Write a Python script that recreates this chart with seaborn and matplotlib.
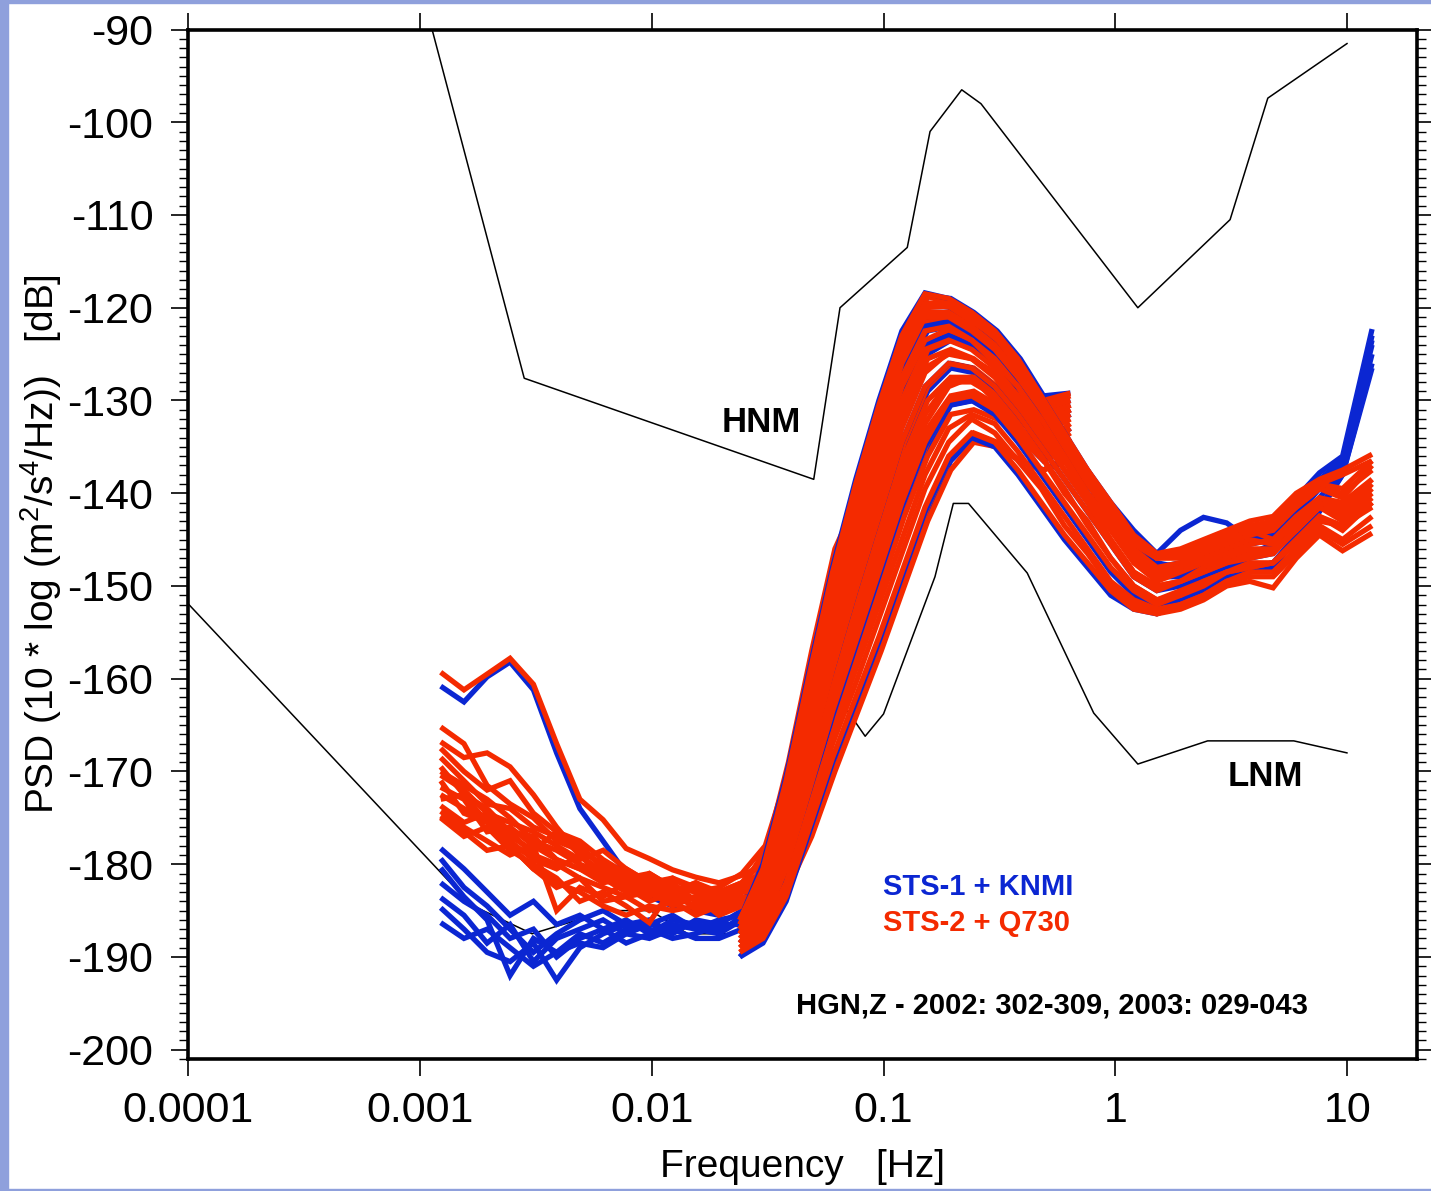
import matplotlib
matplotlib.use("Agg")
import matplotlib.pyplot as plt
import pandas as pd
import seaborn as sns
from matplotlib.patches import Rectangle
from matplotlib.ticker import MultipleLocator, NullLocator

# frequency grids [Hz]: long-period channel and broadband channel
freq_lp = [0.00123, 0.00155, 0.00195, 0.00245, 0.00309, 0.00389, 0.0049, 0.00617,
           0.00776, 0.00977, 0.0123, 0.0155, 0.0195, 0.0245, 0.0309, 0.0389,
           0.049, 0.0617, 0.0776, 0.0977, 0.123, 0.155, 0.195, 0.245,
           0.309, 0.389, 0.49, 0.64]
freq_bb = [0.024, 0.0302, 0.038, 0.0479, 0.0603, 0.0759, 0.0955, 0.120,
           0.151, 0.191, 0.240, 0.302, 0.380, 0.479, 0.603, 0.759,
           0.955, 1.20, 1.51, 1.91, 2.40, 3.02, 3.80, 4.79,
           6.03, 7.59, 9.55, 12.8]

# STS-1 + KNMI (blue), long period channel  [dB]
sts1_lp = [
    [-160.8, -162.5, -159.8, -158.2, -161.2, -168.0, -174.0, -177.5, -181.0, -183.5, -184.5, -185.0, -185.5, -184.0,
     -181.0, -173.5, -163.5, -153.0, -143.5, -135.0, -127.0, -122.5, -122.0, -123.5, -125.5, -128.5, -131.5, -130.5],
    [-178.3, -180.5, -183.0, -185.5, -184.0, -186.5, -185.5, -187.0, -186.0, -187.5, -186.5, -187.0, -187.5, -185.5,
     -179.0, -171.0, -160.0, -149.0, -139.5, -131.0, -123.5, -118.8, -119.0, -120.5, -122.5, -125.5, -129.5, -129.2],
    [-179.4, -182.5, -184.5, -187.0, -189.5, -187.5, -186.0, -185.0, -186.5, -186.0, -187.5, -186.0, -186.5, -185.0,
     -181.5, -175.5, -166.0, -156.0, -147.0, -138.5, -130.5, -125.0, -123.5, -124.5, -126.5, -129.5, -133.0, -131.5],
    [-180.4, -183.5, -186.0, -192.0, -188.0, -189.5, -187.5, -188.5, -187.0, -186.5, -185.5, -187.0, -186.0, -185.5,
     -182.5, -178.0, -169.0, -159.5, -151.0, -143.0, -135.0, -129.0, -126.5, -127.0, -129.0, -132.0, -135.0, -133.0],
    [-183.6, -185.5, -188.5, -186.5, -190.5, -188.0, -187.0, -186.0, -187.5, -188.0, -187.0, -186.5, -187.5, -186.0,
     -183.5, -180.0, -172.5, -164.0, -156.5, -149.0, -141.5, -135.0, -130.5, -130.0, -131.5, -134.0, -136.5, -134.5],
    [-184.7, -187.0, -189.5, -190.5, -188.5, -192.5, -189.0, -187.5, -186.5, -187.0, -188.0, -187.5, -186.5, -186.5,
     -180.0, -172.0, -162.0, -151.5, -142.0, -133.5, -125.5, -121.0, -121.0, -122.5, -124.5, -127.5, -131.0, -130.0],
    [-186.3, -188.0, -187.0, -189.0, -191.0, -189.5, -188.5, -189.0, -187.5, -186.5, -187.0, -188.0, -188.0, -187.0,
     -185.0, -182.5, -176.5, -169.0, -162.5, -156.0, -149.0, -142.0, -136.5, -134.0, -135.0, -136.5, -137.5, -136.0],
    [-182.0, -184.0, -185.5, -188.0, -187.0, -190.0, -188.0, -187.0, -188.5, -187.5, -186.0, -186.5, -187.0, -186.0,
     -181.0, -174.5, -165.0, -155.0, -146.0, -137.5, -129.5, -124.0, -123.0, -124.0, -126.0, -129.0, -132.5, -131.0],
]

# STS-2 + Q730 (red), long period channel  [dB]
sts2_lp = [
    [-159.3, -161.2, -159.5, -157.8, -160.6, -167.0, -173.0, -175.2, -178.3, -179.4, -180.6, -181.4, -182.0, -181.2,
     -180.0, -172.5, -162.5, -152.0, -142.5, -134.0, -126.0, -121.5, -121.5, -123.0, -125.0, -128.0, -131.5, -130.5],
    [-165.2, -167.0, -171.5, -173.5, -175.0, -177.5, -178.5, -180.0, -181.5, -181.0, -182.5, -183.0, -182.5, -181.0,
     -178.0, -170.0, -159.5, -148.5, -139.0, -130.5, -123.0, -118.8, -119.5, -121.0, -123.0, -126.0, -130.0, -129.2],
    [-166.8, -168.5, -168.0, -169.5, -172.5, -176.0, -179.0, -181.0, -180.5, -182.0, -183.5, -182.5, -183.0, -182.0,
     -181.0, -175.0, -165.5, -155.5, -146.5, -138.0, -130.0, -124.5, -123.5, -124.5, -126.5, -129.5, -133.0, -131.5],
    [-167.5, -170.0, -172.0, -171.0, -174.5, -176.5, -177.5, -179.5, -181.0, -182.5, -181.5, -183.0, -184.0, -182.5,
     -182.0, -177.5, -168.5, -159.0, -150.5, -142.5, -134.5, -128.5, -126.0, -126.5, -128.5, -131.5, -134.5, -132.5],
    [-170.4, -172.0, -174.5, -175.5, -176.5, -178.0, -179.5, -178.5, -180.5, -182.0, -181.5, -182.5, -183.5, -183.0,
     -183.0, -179.5, -172.0, -163.5, -156.0, -148.5, -141.0, -134.5, -130.0, -129.5, -131.0, -133.5, -136.0, -134.0],
    [-171.0, -174.5, -175.5, -177.0, -178.5, -176.5, -179.0, -181.5, -182.5, -181.0, -182.5, -184.0, -183.0, -182.0,
     -179.0, -169.0, -157.0, -146.0, -140.5, -139.5, -131.0, -124.5, -122.5, -124.0, -126.0, -129.0, -132.5, -131.0],
    [-171.7, -173.0, -176.5, -176.0, -178.0, -179.5, -180.5, -182.0, -181.5, -183.0, -184.0, -183.5, -184.5, -183.5,
     -184.0, -182.0, -176.0, -168.5, -162.0, -155.5, -148.5, -141.5, -136.0, -133.5, -134.5, -136.5, -137.5, -136.0],
    [-173.7, -175.5, -174.5, -177.5, -179.5, -180.5, -179.0, -181.0, -182.5, -184.0, -183.0, -182.0, -183.5, -182.5,
     -180.5, -173.0, -163.0, -152.5, -143.0, -135.0, -127.0, -122.0, -122.0, -123.5, -125.5, -128.5, -132.0, -130.5],
    [-174.3, -176.0, -177.5, -179.0, -178.0, -185.0, -182.5, -183.5, -182.0, -181.5, -183.5, -184.5, -184.0, -184.0,
     -183.5, -180.0, -173.0, -165.0, -157.5, -150.0, -142.5, -136.0, -131.5, -131.0, -132.0, -134.0, -136.5, -135.0],
    [-175.0, -177.0, -176.0, -178.5, -180.0, -181.5, -184.0, -183.0, -184.5, -186.3, -182.5, -185.0, -184.5, -183.0,
     -181.5, -175.5, -166.5, -156.5, -147.5, -139.0, -131.0, -125.5, -124.5, -125.5, -127.5, -130.5, -133.5, -132.0],
    [-172.5, -174.0, -175.0, -176.5, -179.0, -180.0, -181.5, -182.5, -183.5, -183.0, -184.5, -183.5, -185.5, -184.5,
     -182.5, -178.0, -169.5, -160.5, -152.0, -144.0, -136.0, -130.0, -127.5, -127.5, -129.5, -132.0, -135.0, -133.0],
    [-168.5, -171.0, -173.5, -174.0, -176.0, -177.0, -178.0, -180.5, -182.0, -181.5, -183.0, -182.0, -183.0, -182.5,
     -178.5, -171.0, -160.5, -149.5, -140.0, -131.5, -124.0, -119.5, -120.0, -121.5, -123.5, -127.0, -130.5, -129.5],
    [-173.0, -172.5, -175.5, -178.0, -180.5, -182.0, -183.0, -184.5, -185.5, -184.5, -185.0, -184.5, -185.0, -184.0,
     -184.5, -182.5, -177.0, -170.0, -163.5, -157.0, -150.0, -143.0, -137.5, -134.5, -135.0, -136.5, -137.5, -136.4],
    [-169.5, -172.5, -174.0, -176.5, -177.0, -179.5, -180.5, -181.5, -183.0, -182.5, -184.0, -183.5, -184.0, -183.0,
     -180.5, -173.5, -164.0, -154.0, -144.5, -136.0, -128.5, -123.5, -122.5, -124.0, -126.0, -129.5, -132.5, -131.0],
    [-174.8, -176.5, -178.5, -178.0, -180.5, -182.5, -181.5, -184.0, -183.5, -185.0, -184.0, -185.5, -184.5, -184.5,
     -183.0, -179.0, -171.0, -162.5, -154.5, -146.5, -139.0, -133.0, -129.5, -129.0, -130.5, -133.0, -135.5, -133.5],
    [-170.0, -171.5, -173.0, -175.0, -177.5, -178.5, -180.0, -181.0, -182.0, -183.5, -182.0, -184.0, -183.5, -182.0,
     -179.5, -172.0, -162.0, -151.5, -141.5, -133.5, -125.5, -120.5, -120.5, -122.0, -124.0, -127.0, -131.0, -130.0],
]

# STS-1 + KNMI (blue), broadband channel  [dB]
sts1_bb = [
    [-186.0, -180.0, -170.5, -159.0, -148.0, -138.5, -130.0, -122.5, -118.4, -119.0, -120.5, -122.5, -125.5, -129.5,
     -133.5, -137.5, -141.0, -144.0, -146.5, -144.0, -142.6, -143.2, -145.0, -144.5, -140.5, -137.8, -136.0, -122.3],
    [-186.5, -182.0, -173.0, -162.0, -151.5, -142.0, -133.5, -125.5, -120.5, -120.5, -122.0, -124.0, -127.0, -130.5,
     -134.5, -138.5, -142.0, -145.5, -147.5, -148.0, -146.5, -145.5, -145.0, -144.0, -141.0, -138.5, -136.5, -123.0],
    [-187.5, -183.5, -175.5, -165.0, -155.0, -146.0, -137.5, -129.5, -124.0, -123.0, -124.0, -126.0, -129.0, -132.5,
     -136.0, -140.0, -143.5, -147.0, -149.0, -149.0, -148.0, -147.0, -146.5, -145.5, -142.5, -139.5, -137.0, -124.0],
    [-188.5, -185.5, -178.5, -168.5, -159.0, -150.5, -142.5, -134.5, -128.5, -126.0, -126.5, -128.5, -131.5, -135.0,
     -138.5, -142.0, -145.5, -149.0, -150.5, -150.0, -149.0, -148.0, -147.0, -146.5, -143.5, -140.5, -137.5, -125.0],
    [-190.0, -187.0, -181.0, -172.5, -164.0, -156.5, -149.0, -141.5, -135.0, -130.5, -130.0, -131.5, -134.5, -138.0,
     -141.5, -145.0, -148.5, -151.0, -152.0, -151.5, -150.5, -149.0, -148.0, -147.5, -144.5, -141.5, -138.0, -126.0],
    [-190.0, -188.5, -184.0, -176.5, -169.0, -162.5, -156.0, -149.0, -142.0, -136.5, -134.0, -135.0, -138.0, -141.5,
     -145.0, -148.0, -151.0, -152.5, -153.0, -152.0, -151.0, -149.5, -148.5, -148.0, -145.0, -142.0, -138.0, -126.5],
    [-187.0, -182.5, -174.0, -163.0, -152.5, -143.5, -135.0, -127.0, -122.0, -121.5, -123.0, -125.0, -128.0, -131.5,
     -135.5, -139.0, -142.5, -146.0, -148.0, -147.5, -147.0, -146.0, -145.5, -145.0, -142.0, -139.0, -136.5, -123.5],
]

# STS-2 + Q730 (red), broadband channel  [dB]
sts2_bb = [
    [-186.0, -180.5, -171.0, -159.5, -148.5, -139.0, -130.5, -123.0, -118.5, -119.0, -120.5, -122.5, -125.5, -129.5,
     -133.5, -137.5, -141.0, -144.5, -146.5, -146.0, -145.0, -144.0, -143.0, -142.5, -140.0, -138.5, -137.5, -135.8],
    [-186.5, -182.0, -173.5, -162.5, -152.0, -142.5, -134.0, -126.0, -121.0, -121.0, -122.5, -124.5, -127.5, -131.0,
     -135.0, -139.0, -142.5, -146.0, -148.0, -147.5, -146.5, -145.5, -144.5, -144.0, -141.5, -139.5, -140.5, -137.0],
    [-187.5, -183.5, -176.0, -165.5, -155.5, -146.5, -138.0, -130.0, -124.5, -123.5, -124.5, -126.5, -129.5, -133.0,
     -136.5, -140.5, -144.0, -147.5, -149.5, -148.5, -147.5, -146.5, -145.5, -145.0, -142.5, -140.5, -141.5, -138.5],
    [-188.0, -185.0, -178.5, -168.5, -159.0, -150.5, -142.5, -134.5, -128.5, -126.0, -126.5, -128.5, -131.5, -135.0,
     -138.5, -142.0, -145.5, -149.0, -150.5, -149.5, -148.5, -147.5, -146.5, -146.5, -143.5, -141.5, -142.5, -139.5],
    [-189.0, -186.5, -180.5, -172.0, -163.5, -156.0, -148.5, -141.0, -134.5, -130.0, -129.5, -131.0, -134.0, -137.5,
     -141.0, -144.5, -148.0, -150.5, -152.0, -151.0, -150.0, -148.5, -148.0, -147.5, -145.0, -142.5, -144.0, -141.0],
    [-189.5, -188.0, -183.5, -176.0, -168.5, -162.0, -155.5, -148.5, -141.5, -136.0, -133.5, -134.5, -137.5, -141.0,
     -144.5, -147.5, -150.5, -152.5, -153.0, -152.5, -151.5, -150.0, -149.5, -150.2, -147.0, -144.5, -146.2, -144.3],
    [-186.0, -181.0, -172.0, -160.5, -149.5, -140.0, -131.5, -124.0, -119.5, -119.5, -121.0, -123.0, -126.0, -130.0,
     -134.0, -138.0, -141.5, -145.0, -147.0, -147.0, -146.0, -145.0, -144.0, -143.5, -141.0, -139.0, -139.5, -136.5],
    [-187.0, -182.5, -174.5, -163.5, -153.5, -144.0, -135.5, -127.5, -122.5, -122.0, -123.5, -125.5, -128.5, -132.0,
     -136.0, -140.0, -143.5, -147.0, -149.0, -148.0, -146.5, -145.0, -144.0, -145.0, -143.0, -140.5, -141.0, -138.5],
    [-187.5, -184.0, -177.0, -167.0, -157.0, -148.0, -140.0, -132.0, -126.5, -125.0, -125.5, -127.5, -130.5, -134.0,
     -137.5, -141.0, -145.0, -148.5, -150.0, -149.5, -148.5, -147.5, -147.0, -146.5, -144.0, -141.5, -142.5, -140.0],
    [-188.5, -185.5, -179.5, -170.0, -161.0, -153.0, -145.5, -138.0, -131.5, -128.0, -128.0, -129.5, -132.5, -136.0,
     -139.5, -143.5, -147.0, -150.0, -151.5, -151.0, -149.5, -148.5, -148.0, -147.5, -145.0, -142.5, -143.5, -141.0],
    [-189.0, -187.0, -182.0, -174.0, -166.0, -159.0, -152.0, -145.0, -138.0, -133.0, -131.5, -132.5, -135.5, -139.0,
     -142.5, -146.0, -149.5, -151.5, -152.5, -152.0, -151.0, -149.5, -148.5, -148.5, -146.0, -143.5, -145.0, -142.5],
    [-186.5, -181.5, -172.5, -161.5, -151.0, -141.5, -133.0, -125.0, -120.5, -120.5, -122.0, -124.0, -127.0, -130.5,
     -134.5, -138.5, -142.0, -145.5, -147.0, -146.5, -145.5, -144.5, -143.5, -143.0, -140.5, -139.0, -138.0, -136.5],
    [-186.0, -181.0, -172.0, -161.0, -150.0, -140.5, -132.0, -124.5, -120.0, -119.8, -121.5, -123.0, -126.5, -130.0,
     -134.5, -137.5, -141.5, -145.0, -147.0, -146.5, -145.5, -145.0, -144.0, -143.5, -141.5, -139.5, -140.0, -137.5],
    [-187.0, -183.0, -175.0, -164.0, -154.0, -145.0, -136.5, -128.5, -123.5, -122.3, -123.5, -126.0, -128.5, -133.0,
     -136.0, -140.0, -143.0, -146.5, -148.5, -148.0, -147.0, -146.0, -145.0, -145.5, -143.0, -141.0, -142.0, -139.0],
    [-187.5, -184.5, -177.5, -167.5, -158.0, -149.0, -141.0, -133.0, -127.0, -124.8, -125.5, -127.0, -130.5, -133.5,
     -137.5, -141.0, -145.0, -148.5, -150.0, -149.5, -148.0, -147.0, -146.0, -146.0, -144.0, -141.5, -143.0, -140.5],
    [-188.5, -186.0, -180.0, -171.0, -162.0, -154.5, -146.5, -139.0, -132.5, -128.5, -127.5, -130.0, -132.5, -136.0,
     -140.0, -143.0, -147.0, -150.0, -151.5, -150.5, -149.5, -148.5, -147.5, -147.5, -145.5, -143.0, -143.5, -141.5],
    [-189.5, -187.5, -182.5, -175.0, -167.0, -160.5, -153.5, -146.5, -139.5, -134.5, -132.0, -133.5, -136.5, -139.5,
     -143.5, -146.5, -150.0, -152.0, -153.0, -152.0, -151.0, -149.5, -149.0, -149.0, -146.5, -144.0, -145.5, -143.5],
]

# Peterson noise models
hnm_freq = [0.001, 0.00282, 0.05, 0.0649, 0.1266, 0.1587, 0.2174, 0.2632, 1.25, 3.125, 4.545, 10.0]
hnm_db = [-85.0, -127.6, -138.5, -120.0, -113.5, -101.0, -96.5, -98.0, -120.0, -110.5, -97.4, -91.5]
lnm_freq = [0.0001, 0.001667, 0.003049, 0.006494, 0.009901, 0.01429, 0.02222, 0.03165, 0.04566, 0.0641,
            0.08333, 0.1, 0.1667, 0.2, 0.2326, 0.4167, 0.8065, 1.25, 2.5, 5.882, 10.0]
lnm_db = [-151.9, -184.4, -187.5, -185.0, -185.0, -187.5, -187.5, -185.0, -177.5, -162.1,
          -166.2, -163.8, -149.0, -141.1, -141.1, -148.6, -163.7, -169.2, -166.7, -166.7, -168.0]

x_ticks = [1e-4, 1e-3, 1e-2, 1e-1, 1, 10]
x_labels = ["0.0001", "0.001", "0.01", "0.1", "1", "10"]

BLUE = "#0b26d2"
RED = "#f42a00"
sensors = ["STS-1 + KNMI", "STS-2 + Q730"]

rows = []
for sensor, chan, freqs, traces in [(sensors[0], "lp", freq_lp, sts1_lp),
                                    (sensors[0], "bb", freq_bb, sts1_bb),
                                    (sensors[1], "lp", freq_lp, sts2_lp),
                                    (sensors[1], "bb", freq_bb, sts2_bb)]:
    for k, tr in enumerate(traces):
        for f, v in zip(freqs, tr):
            rows.append((f, v, sensor, chan, f"{sensor}-{chan}-{k}"))
df = pd.DataFrame(rows, columns=["freq", "psd", "sensor", "chan", "trace"])

sns.set_style("ticks", {"axes.edgecolor": "black", "xtick.color": "black", "ytick.color": "black",
                        "text.color": "black", "axes.labelcolor": "black"})
plt.rcParams["font.family"] = ["Liberation Sans", "DejaVu Sans"]
plt.rcParams["axes.unicode_minus"] = False

fig = plt.figure(figsize=(14.31, 11.91), dpi=100)
# light blue frame strips of the original slide
fig.patches.append(Rectangle((0, 0), 8 / 1431, 1, transform=fig.transFigure, color="#8fa0dc", zorder=0))
fig.patches.append(Rectangle((0, 1 - 3 / 1191), 1, 3 / 1191, transform=fig.transFigure, color="#8fa0dc", zorder=0))
fig.patches.append(Rectangle((0, 0), 1, 2 / 1191, transform=fig.transFigure, color="#8fa0dc", zorder=0))

ax = fig.add_axes([188 / 1431, 1 - 1059 / 1191, (1417 - 188) / 1431, (1059 - 29.5) / 1191])
ax.set_xscale("log")

ax.plot(hnm_freq, hnm_db, color="black", lw=1.1, zorder=1.5)
ax.plot(lnm_freq, lnm_db, color="black", lw=1.1, zorder=1.5)

# long-period traces first, broadband on top; within each, blue under red
for chan in ["lp", "bb"]:
    sns.lineplot(data=df[df["chan"] == chan], x="freq", y="psd", hue="sensor", hue_order=sensors,
                 units="trace", estimator=None, sort=False, palette=[BLUE, RED], lw=3.8,
                 legend=False, ax=ax, solid_joinstyle="miter", solid_capstyle="butt")

ax.set_xlim(1e-4, 20)
ax.set_ylim(-201, -90)
ax.set_xticks(x_ticks, x_labels)
ax.xaxis.set_minor_locator(NullLocator())
ax.yaxis.set_major_locator(MultipleLocator(10))
ax.yaxis.set_minor_locator(MultipleLocator(1))
ax.tick_params(which="both", direction="out", top=True, right=True)
ax.tick_params(which="major", length=12, width=1.2, labelsize=31)
ax.tick_params(axis="y", which="minor", length=6.5, width=1.0)
ax.tick_params(axis="y", pad=13)
ax.tick_params(axis="x", pad=11)
for s in ax.spines.values():
    s.set_linewidth(2.6)

ax.set_xlabel("Frequency   [Hz]", fontsize=28, labelpad=13)
ax.set_ylabel(r"PSD (10 * log (m$\mathregular{^2}$/s$\mathregular{^4}$/Hz))   [dB]", fontsize=28, labelpad=2)

ax.text(0.0298, -133.4, "HNM", fontsize=25, fontweight="bold", ha="center", va="baseline")
ax.text(4.42, -171.6, "LNM", fontsize=25, fontweight="bold", ha="center", va="baseline")
ax.text(0.099, -183.3, sensors[0], fontsize=21, fontweight="bold", color=BLUE, ha="left", va="baseline")
ax.text(0.099, -187.2, sensors[1], fontsize=21, fontweight="bold", color=RED, ha="left", va="baseline")
ax.text(0.0418, -196.1, "HGN,Z - 2002: 302-309, 2003: 029-043", fontsize=21, fontweight="bold",
        ha="left", va="baseline")

fig.savefig("out.png", dpi=100)
